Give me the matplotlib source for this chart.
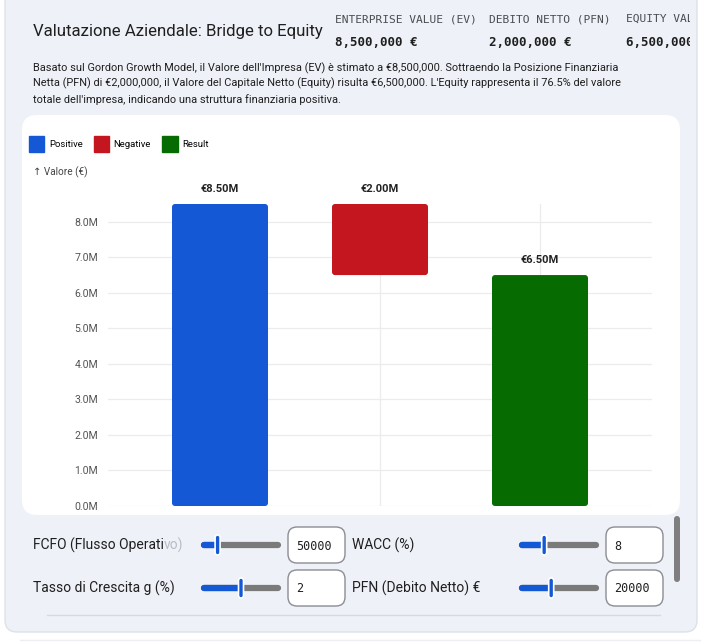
import matplotlib.pyplot as plt
from matplotlib.patches import FancyBboxPatch, Patch
from matplotlib.ticker import FuncFormatter

# ---- data ----
steps = ["Enterprise Value", "PFN", "Equity"]
kinds = ["Positive", "Negative", "Result"]
values = [8_500_000, -2_000_000, 6_500_000]
kind_colors = {"Positive": "#1558d6", "Negative": "#c3161f", "Result": "#066b00"}

metric_names = ["ENTERPRISE VALUE (EV)", "DEBITO NETTO (PFN)", "EQUITY VALUE"]
metric_values = ["8,500,000 €", "2,000,000 €", "6,500,000 €"]

title = "Valutazione Aziendale: Bridge to Equity"
summary = ("Basato sul Gordon Growth Model, il Valore dell'Impresa (EV) è stimato a €8,500,000. Sottraendo la Posizione Finanziaria\n"
           "Netta (PFN) di €2,000,000, il Valore del Capitale Netto (Equity) risulta €6,500,000. L'Equity rappresenta il 76.5% del valore\n"
           "totale dell'impresa, indicando una struttura finanziaria positiva.")

control_labels = ["FCFO (Flusso Operativo)", "WACC (%)", "Tasso di Crescita g (%)", "PFN (Debito Netto) €"]
control_values = ["50000", "8", "2", "20000"]
slider_pos = [0.2, 0.31, 0.5, 0.4]

W, H = 701, 644
SANS = ["Roboto", "DejaVu Sans"]
MONO = ["DejaVu Sans Mono"]
plt.rcParams["font.family"] = SANS

fig = plt.figure(figsize=(W / 100, H / 100), dpi=100)
fig.patch.set_facecolor("white")

# background / layout axes in pixel coordinates
bg = fig.add_axes([0, 0, 1, 1], zorder=-1)
bg.set_xlim(0, W)
bg.set_ylim(H, 0)
bg.axis("off")

bg.add_patch(FancyBboxPatch((5, -30), 692, 662, boxstyle="round,pad=0,rounding_size=12",
                            fc="#eef1f7", ec="#dde1e8", lw=1))
bg.add_patch(FancyBboxPatch((22, 115), 658, 400, boxstyle="round,pad=0,rounding_size=15",
                            fc="white", ec="none"))
bg.plot([47, 660], [615, 615], color="#d6dae2", lw=1)
bg.plot([20, 700], [640, 640], color="#eceef2", lw=1)

# header
bg.text(33, 31, title, fontsize=12.1, color="#1f1f1f", va="center", ha="left")
bg.text(33, 62, summary, fontsize=7.9, color="#1f1f1f", va="top", ha="left", linespacing=1.5)
bg.text(33, 172, "↑ Valore (€)", fontsize=7.2, color="#444444", va="center", ha="left")

hdr = fig.add_axes([0, 1 - 110 / H, 690 / W, 110 / H])
hdr.set_xlim(0, 690)
hdr.set_ylim(110, 0)
hdr.axis("off")
for x0, name, val in zip([335, 489, 626], metric_names, metric_values):
    hdr.text(x0, 19, name, fontsize=8.1, color="#4a4d50", family=MONO, va="center", clip_on=True)
    hdr.text(x0, 42, val, fontsize=9, color="#1f1f1f", family=MONO, weight="bold", va="center", clip_on=True)

# controls
ctrl_xy = [(33, 545), (352, 545), (33, 588), (352, 588)]
slider_x = [202, 520, 202, 520]
box_x = [288, 606, 288, 606]
for (lx, ly), sx, bx, lab, val, frac in zip(ctrl_xy, slider_x, box_x, control_labels, control_values, slider_pos):
    if lab.startswith("FCFO"):
        head = bg.text(lx, ly, lab[:-3], fontsize=10, color="#1f1f1f", va="center")
        bg.annotate(lab[-3:], xy=(1, 0.5), xycoords=head, fontsize=10, color="#b9bcc2",
                    va="center", ha="left")
    else:
        bg.text(lx, ly, lab, fontsize=10, color="#1f1f1f", va="center")
    tx = sx + frac * 78
    bg.plot([sx + 2, sx + 76], [ly, ly], color="#7a7a7a", lw=4.5, solid_capstyle="round")
    bg.plot([sx + 2, tx], [ly, ly], color="#1558d6", lw=4.5, solid_capstyle="round")
    bg.add_patch(FancyBboxPatch((tx - 2.5, ly - 10), 5, 20, boxstyle="round,pad=0,rounding_size=2.5",
                                fc="#1558d6", ec="white", lw=1.2, zorder=3))
    bg.add_patch(FancyBboxPatch((bx, ly - 18), 57, 36, boxstyle="round,pad=0,rounding_size=9",
                                fc="white", ec="#8a8d93", lw=1))
    bg.text(bx + 8, ly + 1, val, fontsize=8.5, color="#1f1f1f", family=MONO, va="center")

bg.add_patch(FancyBboxPatch((674, 516), 6, 66, boxstyle="round,pad=0,rounding_size=3",
                            fc="#7f7f7f", ec="none"))

# ---- waterfall chart ----
ax = fig.add_axes([108 / W, 1 - 506 / H, 544 / W, 302 / H])
ax.set_facecolor("none")

bottoms, heights = [], []
running = 0
for k, v in zip(kinds, values):
    if k == "Result":
        bottoms.append(0)
        heights.append(v)
        running = v
    elif v >= 0:
        bottoms.append(running)
        heights.append(v)
        running += v
    else:
        bottoms.append(running + v)
        heights.append(-v)
        running += v

xs = list(range(len(steps)))
ax.set_xlim(-0.7, 2.7)
ax.set_ylim(0, 8_500_000)
bars = ax.bar(xs, heights, bottom=bottoms, width=0.6,
              color=[kind_colors[k] for k in kinds], edgecolor="none", zorder=2)

# rounded corners: redraw each bar with a rounded box of the same geometry
x_per_px = 3.4 / 544
y_per_px = 8_500_000 / 302
for r in bars:
    r.set_visible(False)
    ax.add_patch(FancyBboxPatch((r.get_x(), r.get_y()), r.get_width(), r.get_height(),
                                boxstyle=f"round,pad=0,rounding_size={3 * x_per_px}",
                                mutation_aspect=y_per_px / x_per_px,
                                fc=r.get_facecolor(), ec="none", zorder=2))

for x, b, h, v in zip(xs, bottoms, heights, values):
    ax.annotate(f"€{abs(v) / 1e6:.2f}M", (x, b + h), xytext=(0, 11), textcoords="offset points",
                ha="center", va="center", fontsize=8, weight="bold", color="#222222",
                annotation_clip=False)

ax.set_yticks([i * 1_000_000 for i in range(9)])
ax.yaxis.set_major_formatter(FuncFormatter(lambda v, p: f"{v / 1e6:.1f}M"))
ax.set_xticks(xs)
ax.set_xticklabels([])
ax.tick_params(length=0, labelsize=7.6, labelcolor="#555555", pad=7)
ax.grid(True, color="#ececec", lw=0.9)
ax.set_axisbelow(True)
for s in ax.spines.values():
    s.set_visible(False)

handles = [Patch(color=kind_colors[k]) for k in kinds]
ax.legend(handles, kinds, loc="upper left", bbox_to_anchor=(29 / W, 1 - 136 / H),
          bbox_transform=fig.transFigure, ncol=3, frameon=False, fontsize=6.8,
          handlelength=1.6, handleheight=2.2, handletextpad=0.5, columnspacing=1.2,
          borderpad=0, borderaxespad=0)

fig.savefig("out.png", dpi=100)
